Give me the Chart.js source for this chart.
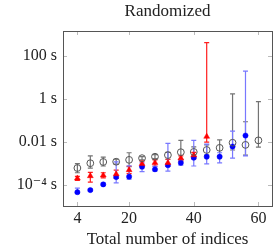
<!DOCTYPE html>
<html>
<head>
<meta charset="utf-8">
<script src="https://cdn.jsdelivr.net/npm/chart.js@4"></script>
<style>
  html, body { margin: 0; padding: 0; background: #fff; }
  #wrap { width: 277px; height: 251px; }
</style>
</head>
<body>
<div id="wrap"><canvas id="c" width="277" height="251"></canvas></div>
<script>
// values (seconds, log axis)
const xGray = [4, 8, 12, 16, 20, 24, 28, 32, 36, 40, 44, 48, 52, 56, 60];
const grayMid = [6.3e-4, 1.05e-3, 1.2e-3, 1.23e-3, 1.5e-3, 1.8e-3, 2.1e-3, 2.5e-3, 3.4e-3, 3.5e-3, 4.3e-3, 5.4e-3, 9.3e-3, 7.4e-3, 1.2e-2];
const grayHi = [1.0e-3, 2.3e-3, 2.0e-3, 1.6e-3, 3.2e-3, 2.1e-3, 2.6e-3, 3.3e-3, 1.2e-2, 6.0e-3, 7.4e-3, 1.26e-2, 1.7, 8.7e-2, 0.74];
const grayLo = [3.8e-4, 6.2e-4, 7.8e-4, 9.5e-4, 7.2e-4, 1.5e-3, 1.7e-3, 1.6e-3, 1.5e-3, 2.0e-3, 2.5e-3, 2.3e-3, 4.3e-3, 2.5e-3, 5.8e-3];

const xRed = [4, 8, 12, 16, 20, 24, 28, 32, 36, 40, 44];
const redMid = [2.1e-4, 2.7e-4, 2.9e-4, 3.3e-4, 5.1e-4, 9.8e-4, 1.1e-3, 1.1e-3, 1.8e-3, 2.5e-3, 1.8e-2];
const redHi = [2.6e-4, 4.0e-4, 3.8e-4, 5.0e-4, 7.6e-4, 1.3e-3, 1.5e-3, 1.6e-3, 2.3e-3, 3.3e-3, 400];
const redLo = [1.7e-4, 1.4e-4, 2.2e-4, 2.1e-4, 3.5e-4, 7.5e-4, 7.8e-4, 7.4e-4, 1.3e-3, 1.7e-3, 1.0e-2];

const xBlue = [4, 8, 12, 16, 20, 24, 28, 32, 36, 40, 44, 48, 52, 56];
const blueMid = [4.8e-5, 6.0e-5, 1.1e-4, 2.4e-4, 2.5e-4, 7.2e-4, 5.5e-4, 8.5e-4, 1.1e-3, 1.9e-3, 2.1e-3, 2.1e-3, 6.2e-3, 2.0e-2];
const blueHi = [7.4e-5, 6.6e-5, 1.25e-4, 1.2e-3, 7.9e-4, 1.1e-3, 7.5e-4, 8.7e-3, 1.5e-3, 1.2e-2, 8.1e-3, 3.2e-3, 3.2e-2, 19];
const blueLo = [4.3e-5, 5.5e-5, 1.0e-4, 1.3e-4, 1.9e-4, 4.3e-4, 4.5e-4, 4.5e-4, 8.5e-4, 7.8e-4, 9.8e-4, 1.1e-3, 1.8e-3, 2.3e-3];

const xTicks = [4, 20, 40, 60];
const yTicks = [1e-4, 1e-2, 1, 100];
const yTickLabels = ['10\u207B\u2074 s', '0.01 s', '1 s', '100 s'];
const titleText = 'Randomized';

// error bar colour per dataset (gray, red, blue)
const errColors = ['rgb(115,115,115)', 'rgb(255,30,30)', 'rgb(120,120,255)'];

const serif = '"Liberation Serif", "DejaVu Serif", serif';

function pts(xs, ys, lo, hi) {
  return xs.map((x, i) => ({ x: x, y: ys[i], lo: lo[i], hi: hi[i] }));
}

// vertical error bars, drawn under the markers
const errorBars = {
  id: 'errorBars',
  beforeDatasetsDraw(chart) {
    const ctx = chart.ctx;
    const xs = chart.scales.x, ys = chart.scales.y;
    const a = chart.chartArea;
    ctx.save();
    ctx.beginPath();
    ctx.rect(a.left, a.top, a.right - a.left, a.bottom - a.top);
    ctx.clip();
    ctx.lineWidth = 1.2;
    chart.data.datasets.forEach((ds, di) => {
      ctx.strokeStyle = errColors[di];
      ds.data.forEach(p => {
        const px = xs.getPixelForValue(p.x);
        const y1 = ys.getPixelForValue(p.hi);
        const y2 = ys.getPixelForValue(p.lo);
        ctx.beginPath();
        ctx.moveTo(px, y1);
        ctx.lineTo(px, y2);
        ctx.moveTo(px - 2.5, y1);
        ctx.lineTo(px + 2.5, y1);
        ctx.moveTo(px - 2.5, y2);
        ctx.lineTo(px + 2.5, y2);
        ctx.stroke();
      });
    });
    ctx.restore();
  }
};

// pgfplots-like frame with inward ticks, title centred over the plot box
const frame = {
  id: 'frame',
  afterDraw(chart) {
    const ctx = chart.ctx;
    const a = chart.chartArea;
    const xs = chart.scales.x, ys = chart.scales.y;
    ctx.save();
    ctx.strokeStyle = '#bbb';
    ctx.lineWidth = 1;
    ctx.beginPath();
    xTicks.forEach(v => {
      const px = Math.round(xs.getPixelForValue(v)) + 0.5;
      ctx.moveTo(px, a.bottom); ctx.lineTo(px, a.bottom - 4);
      ctx.moveTo(px, a.top); ctx.lineTo(px, a.top + 4);
    });
    yTicks.forEach(v => {
      const py = Math.round(ys.getPixelForValue(v)) + 0.5;
      ctx.moveTo(a.left, py); ctx.lineTo(a.left + 4, py);
      ctx.moveTo(a.right, py); ctx.lineTo(a.right - 4, py);
    });
    ctx.stroke();
    ctx.strokeStyle = '#555';
    ctx.strokeRect(Math.round(a.left) + 0.5, Math.round(a.top) + 0.5,
      Math.round(a.width), Math.round(a.height));

    ctx.fillStyle = '#222';
    ctx.font = '17px ' + serif;
    ctx.textAlign = 'center';
    ctx.textBaseline = 'middle';
    ctx.fillText(titleText, (a.left + a.right) / 2, 12);
    ctx.restore();
  }
};

new Chart(document.getElementById('c'), {
  type: 'scatter',
  data: {
    datasets: [
      {
        data: pts(xGray, grayMid, grayLo, grayHi),
        pointStyle: 'circle', pointRadius: 3.4, borderWidth: 1,
        borderColor: '#555', backgroundColor: 'rgba(0,0,0,0)'
      },
      {
        data: pts(xRed, redMid, redLo, redHi),
        pointStyle: 'triangle', pointRadius: 3.4, borderWidth: 0.5,
        borderColor: '#f00', backgroundColor: '#f00'
      },
      {
        data: pts(xBlue, blueMid, blueLo, blueHi),
        pointStyle: 'circle', pointRadius: 2.6, borderWidth: 0.5,
        borderColor: '#00f', backgroundColor: '#00f'
      }
    ]
  },
  options: {
    responsive: false,
    animation: false,
    layout: { padding: { left: 0, right: 1, top: 31, bottom: 0 } },
    plugins: {
      legend: { display: false },
      tooltip: { enabled: false },
      title: { display: false }
    },
    scales: {
      x: {
        type: 'linear',
        min: -0.45,
        max: 64.2,
        afterBuildTicks: s => { s.ticks = xTicks.map(v => ({ value: v })); },
        afterFit: s => { s.height = 45; },
        grid: { display: false, drawTicks: false, tickLength: 0 },
        border: { display: false },
        ticks: { color: '#222', font: { family: serif, size: 16 }, padding: 3, maxRotation: 0 },
        title: {
          display: true,
          text: 'Total number of indices',
          color: '#222',
          font: { family: serif, size: 17 },
          padding: { top: 0, bottom: 1 }
        }
      },
      y: {
        type: 'logarithmic',
        min: 1.1e-5,
        max: 1380,
        afterBuildTicks: s => { s.ticks = yTicks.map(v => ({ value: v })); },
        afterFit: s => { s.width = 63; },
        grid: { display: false, drawTicks: false, tickLength: 0 },
        border: { display: false },
        ticks: {
          color: '#222',
          font: { family: serif, size: 16 },
          padding: 6,
          callback: v => yTickLabels[yTicks.indexOf(v)]
        }
      }
    }
  },
  plugins: [errorBars, frame]
});
</script>
</body>
</html>
